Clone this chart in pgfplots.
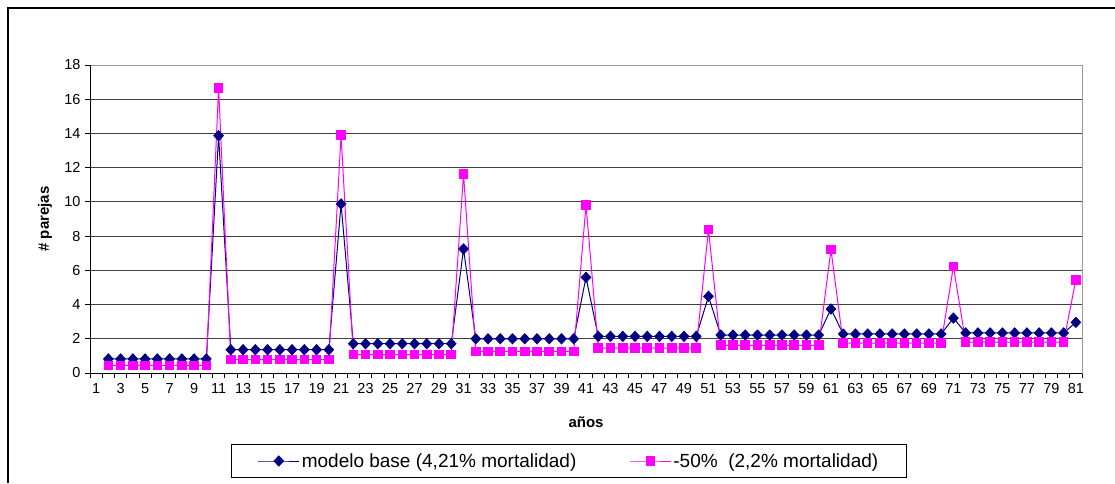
\documentclass[border=0pt]{standalone}
\usepackage{pgfplots}
\pgfplotsset{compat=1.18}
\usepackage{pgfplotstable}
\usepackage{fontspec}
\setmainfont{Liberation Sans}
\definecolor{navyb}{RGB}{0,0,128}
\definecolor{magp}{RGB}{255,0,255}

\pgfplotstableread{
x y
2 0.82
3 0.82
4 0.82
5 0.82
6 0.82
7 0.82
8 0.82
9 0.82
10 0.82
11 13.87
12 1.36
13 1.36
14 1.36
15 1.36
16 1.36
17 1.36
18 1.36
19 1.36
20 1.36
21 9.88
22 1.71
23 1.71
24 1.71
25 1.71
26 1.71
27 1.71
28 1.71
29 1.71
30 1.71
31 7.25
32 2.00
33 2.00
34 2.00
35 2.00
36 2.00
37 2.00
38 2.00
39 2.00
40 2.00
41 5.59
42 2.14
43 2.14
44 2.14
45 2.14
46 2.14
47 2.14
48 2.14
49 2.14
50 2.14
51 4.48
52 2.22
53 2.22
54 2.22
55 2.22
56 2.22
57 2.22
58 2.22
59 2.22
60 2.22
61 3.74
62 2.28
63 2.28
64 2.28
65 2.28
66 2.28
67 2.28
68 2.28
69 2.28
70 2.28
71 3.21
72 2.34
73 2.34
74 2.34
75 2.34
76 2.34
77 2.34
78 2.34
79 2.34
80 2.34
81 2.96
}\base

\pgfplotstableread{
x y
2 0.44
3 0.44
4 0.44
5 0.44
6 0.44
7 0.44
8 0.44
9 0.44
10 0.44
11 16.67
12 0.78
13 0.78
14 0.78
15 0.78
16 0.78
17 0.78
18 0.78
19 0.78
20 0.78
21 13.90
22 1.07
23 1.07
24 1.07
25 1.07
26 1.07
27 1.07
28 1.07
29 1.07
30 1.07
31 11.63
32 1.26
33 1.26
34 1.26
35 1.26
36 1.26
37 1.26
38 1.26
39 1.26
40 1.26
41 9.82
42 1.46
43 1.46
44 1.46
45 1.46
46 1.46
47 1.46
48 1.46
49 1.46
50 1.46
51 8.38
52 1.62
53 1.62
54 1.62
55 1.62
56 1.62
57 1.62
58 1.62
59 1.62
60 1.62
61 7.21
62 1.75
63 1.75
64 1.75
65 1.75
66 1.75
67 1.75
68 1.75
69 1.75
70 1.75
71 6.23
72 1.81
73 1.81
74 1.81
75 1.81
76 1.81
77 1.81
78 1.81
79 1.81
80 1.81
81 5.45
}\half

\begin{document}
\begin{tikzpicture}
\useasboundingbox (0,0) rectangle (1115pt,483pt);
\draw[line width=1.2pt, black] (8pt,0pt) -- (8pt,475pt) -- (1115pt,475pt);
\begin{axis}[
  at={(90pt,110pt)}, anchor=south west,
  scale only axis, width=992pt, height=308pt,
  xmin=0.5, xmax=81.5, ymin=0, ymax=18,
  xtick={0.5,1.5,...,81.5},
  xticklabels={},
  extra x ticks={1,3,...,81},
  extra x tick style={major tick length=0pt},
  xticklabel style={yshift=-7pt},
  ytick={0,2,...,18},
  tick align=outside,
  major tick length=5pt,
  tick style={black, line width=0.8pt},
  xtick pos=bottom, ytick pos=left,
  ymajorgrids,
  major grid style={black!75, line width=0.8pt},
  axis line style={draw=gray!80, line width=1pt},
  tick label style={font=\fontsize{14.5}{16}\selectfont},
  /pgf/number format/assume math mode=true,
  yticklabel style={xshift=-1pt},
  xlabel={\textbf{años}},
  ylabel={\textbf{\# parejas}},
  label style={font=\fontsize{15}{17}\selectfont},
  xlabel style={at={(axis description cs:0.5,-0.159)}, anchor=center},
  ylabel style={at={(axis description cs:-0.0454,0.5)}, anchor=center},
  legend columns=2,
  legend style={at={(axis description cs:0.4829,-0.2857)}, anchor=center,
    draw=black, line width=1pt, font=\fontsize{19}{21}\selectfont,
    inner xsep=26pt, inner ysep=7pt,
    /tikz/every even column/.append style={column sep=51pt}},
  legend image code/.code={\draw[mark repeat=2,mark phase=2,#1] plot coordinates {(0pt,0pt) (20.5pt,0pt) (41pt,0pt)};},
  clip=false,
]
\draw[black, line width=1pt] (rel axis cs:0,1) -- (rel axis cs:0,0) -- (rel axis cs:1,0);
\addplot[navyb, line width=1pt, mark=diamond*, mark size=5pt, mark options={solid, fill=navyb, xscale=1.25}] table[x=x,y=y]{\base};
\addlegendentry{modelo base (4,21\% mortalidad)}
\addplot[magp, line width=1pt, mark=square*, mark size=4.3pt, mark options={solid, fill=magp}] table[x=x,y=y]{\half};
\addlegendentry{-50\%\ \ (2,2\% mortalidad)}
\end{axis}
\end{tikzpicture}
\end{document}
